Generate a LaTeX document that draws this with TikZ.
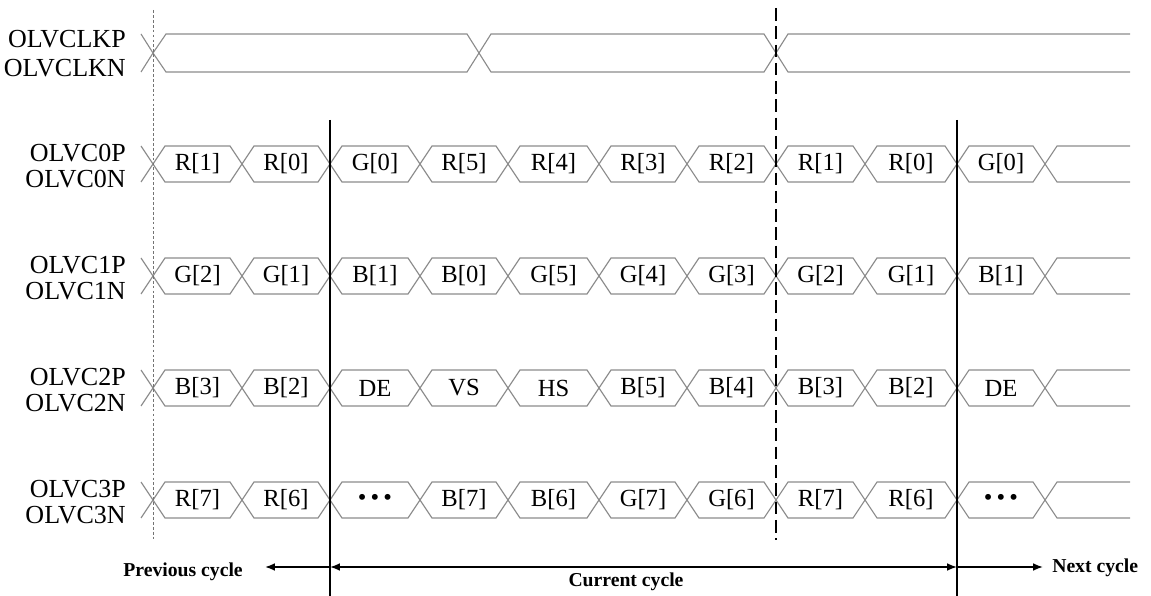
\documentclass[tikz,border=0pt]{standalone}
\usepackage{fontspec}
\setmainfont{Liberation Serif}
\usetikzlibrary{arrows.meta}

\tikzset{
  wave/.style={draw=black!45, line width=0.8pt},
  cell/.style={font=\fontsize{17.5}{20}\selectfont, inner sep=0pt},
  sig/.style={font=\fontsize{18.5}{21}\selectfont, anchor=east, inner sep=0pt},
  cyc/.style={font=\fontsize{14}{16}\selectfont\bfseries, inner sep=0pt},
  span/.style={line width=1.2pt, -{Latex[length=7pt,width=5.5pt]}},
}

% one bus line: y centre, name, list of a/b/text
\newcommand{\busrow}[3]{%
  \foreach \a/\b/\t [count=\i] in {#3} {
    \draw[wave] (\a,#1) -- (\a+12,#1-18) -- (\b-12,#1-18) -- (\b,#1)
      -- (\b-12,#1+18) -- (\a+12,#1+18) -- cycle;
    \node[cell] (#2-\i) at ({(\a+\b)/2},#1) {\t};
  }
  \draw[wave] (141,#1-18) -- (153,#1) -- (141,#1+18);
  \draw[wave] (1130,#1-18) -- (1057,#1-18) -- (1045,#1) -- (1057,#1+18) -- (1130,#1+18);
}
\newcommand{\bdots}{\textbullet\,\textbullet\,\textbullet}

\begin{document}
\begin{tikzpicture}[x=0.025cm,y=-0.025cm]
  \useasboundingbox (0,0) rectangle (1151,596);

  % signal names
  \node[sig] (clkp) at (126,39) {OLVCLKP};
  \node[sig] (clkn) at (126,68) {OLVCLKN};
  \foreach \r/\yc in {0/164,1/276,2/388,3/500} {
    \node[sig] (p\r) at (126,\yc-11) {OLVC\r P};
    \node[sig] (n\r) at (126,\yc+15) {OLVC\r N};
  }

  % clock
  \draw[wave] (141,34) -- (153,53) -- (141,72);
  \draw[wave] (153,53) -- (166,34) -- (467,34) -- (479,53) -- (467,72) -- (166,72) -- cycle;
  \draw[wave] (479,53) -- (491,34) -- (764,34) -- (776,53) -- (764,72) -- (491,72) -- cycle;
  \draw[wave] (1130,34) -- (788,34) -- (776,53) -- (788,72) -- (1130,72);

  % data lanes
  \busrow{164}{ch0}{153/242/{R[1]},242/330/{R[0]},330/420/{G[0]},420/508/{R[5]},
    508/599/{R[4]},599/687/{R[3]},687/776/{R[2]},776/865/{R[1]},865/957/{R[0]},957/1045/{G[0]}}
  \busrow{276}{ch1}{153/242/{G[2]},242/330/{G[1]},330/420/{B[1]},420/508/{B[0]},
    508/599/{G[5]},599/687/{G[4]},687/776/{G[3]},776/865/{G[2]},865/957/{G[1]},957/1045/{B[1]}}
  \busrow{388}{ch2}{153/242/{B[3]},242/330/{B[2]},330/420/{DE},420/508/{VS},
    508/599/{HS},599/687/{B[5]},687/776/{B[4]},776/865/{B[3]},865/957/{B[2]},957/1045/{DE}}
  \busrow{500}{ch3}{153/242/{R[7]},242/330/{R[6]},330/420/{\bdots},420/508/{B[7]},
    508/599/{B[6]},599/687/{G[7]},687/776/{G[6]},776/865/{R[7]},865/957/{R[6]},957/1045/{\bdots}}

  % cycle borders
  \coordinate (start) at (153,10);
  \coordinate (startend) at (153,540);
  \coordinate (cyca) at (330,120);
  \coordinate (cycaend) at (330,596);
  \coordinate (cycb) at (957,120);
  \coordinate (cycbend) at (957,596);
  \coordinate (half) at (776,8);
  \coordinate (halfend) at (776,540);
  \draw[black!55, line width=0.5pt, dash pattern=on 2pt off 1.5pt] (start) -- (startend);
  \draw[line width=1.2pt] (cyca) -- (cycaend);
  \draw[line width=1.2pt] (cycb) -- (cycbend);
  \draw[line width=1.6pt, dash pattern=on 9pt off 4pt] (half) -- (halfend);

  % cycle arrows
  \coordinate (prevtip) at (265,567);
  \coordinate (cura) at (330,567);
  \coordinate (curb) at (957,567);
  \coordinate (nexttip) at (1043,567);
  \draw[span] (cura) -- (prevtip);
  \draw[span, {Latex[length=7pt,width=5.5pt]}-{Latex[length=7pt,width=5.5pt]}] (cura) -- (curb);
  \draw[span] (curb) -- (nexttip);
  \node[cyc, anchor=east] (prev) at (243,572) {Previous cycle};
  \node[cyc] (cur) at (626,582) {Current cycle};
  \node[cyc, anchor=west] (next) at (1052,568) {Next cycle};
\end{tikzpicture}
\end{document}
